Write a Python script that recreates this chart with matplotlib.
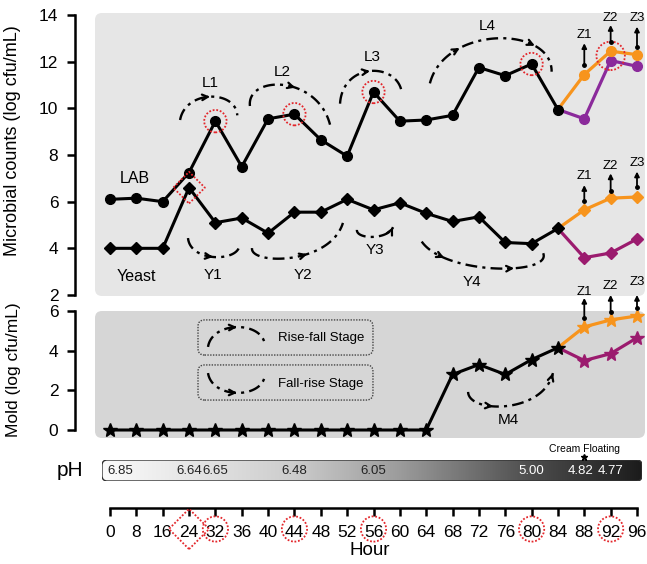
import numpy as np
import matplotlib
matplotlib.use('Agg')
import matplotlib.pyplot as plt
from matplotlib.patches import FancyBboxPatch
from matplotlib.colors import LinearSegmentedColormap
from matplotlib import transforms as mtransforms

plt.rcParams['font.family'] = ['Liberation Sans', 'DejaVu Sans']

# ---------------- data ----------------
hours = [0, 8, 16, 24, 32, 36, 40, 44, 48, 52, 56, 60, 64, 68, 72, 76, 80, 84, 88, 92, 96]
lab = [6.1, 6.15, 6.0, 7.25, 9.45, 7.5, 9.55, 9.75, 8.65, 7.95, 10.7, 9.45, 9.5, 9.7, 11.75, 11.4, 11.9, 9.95]
lab_orange = [11.45, 12.45, 12.3]
lab_purple = [9.55, 12.05, 11.8]
yeast = [4.0, 4.0, 4.0, 6.6, 5.1, 5.3, 4.65, 5.55, 5.55, 6.1, 5.65, 5.95, 5.5, 5.15, 5.35, 4.25, 4.2, 4.85]
yeast_orange = [5.65, 6.15, 6.2]
yeast_purple = [3.6, 3.8, 4.4]
mold = [0, 0, 0, 0, 0, 0, 0, 0, 0, 0, 0, 0, 0, 2.8, 3.3, 2.8, 3.55, 4.15]
mold_orange = [5.2, 5.55, 5.75]
mold_purple = [3.5, 3.85, 4.65]
ph_hours = [0, 24, 32, 44, 56, 80, 88, 92]
ph_values = ['6.85', '6.64', '6.65', '6.48', '6.05', '5.00', '4.82', '4.77']
circled_hours = [32, 44, 56, 80, 92]
diamond_hours = [24]
cream_hour = 88

# ---------------- styles ----------------
ORANGE = '#f7941d'
PURPLE_LAB = '#8b2a9b'
PURPLE_Y = '#9b1b6e'
RED = '#e3262b'
BG1 = '#e6e6e6'
BG2 = '#d6d6d6'

W, H = 647, 564
fig = plt.figure(figsize=(W / 100, H / 100), dpi=100)
fig.patch.set_facecolor('white')


def rect(x0, y0, x1, y1):
    return [x0 / W, 1 - y1 / H, (x1 - x0) / W, (y1 - y0) / H]


SP = 26.35  # px per category
XL = ((95 - 110) / SP, (645 - 110) / SP)
idx = list(range(len(hours)))
pos = {h: i for i, h in enumerate(hours)}
nb = len(lab)
xb = idx[:nb]
xc = idx[nb - 1:]


def panel(ax, color, wpx, hpx):
    ax.patch.set_visible(False)
    r = 7 / wpx
    p = FancyBboxPatch((0, 0), 1, 1, boxstyle=f'round,pad=0,rounding_size={r}',
                       mutation_aspect=wpx / hpx, transform=ax.transAxes,
                       fc=color, ec='none', zorder=0)
    ax.add_patch(p)
    for s in ['top', 'right', 'bottom']:
        ax.spines[s].set_visible(False)
    ax.spines['left'].set_position(('axes', -20 / wpx))
    ax.spines['left'].set_linewidth(1.8)
    ax.tick_params(axis='y', direction='out', length=6, width=1.8, labelsize=12.5, pad=6)
    ax.set_xticks([])
    ax.set_xlim(*XL)


def cb(P, t):
    t = np.asarray(t, float)[..., None]
    p0, p1, p2, p3 = P
    return ((1 - t) ** 3 * p0 + 3 * (1 - t) ** 2 * t * p1
            + 3 * (1 - t) * t ** 2 * p2 + t ** 3 * p3)


def arc(ax, p0, apex, p2, arrows, clip=True):
    p0 = np.array(p0, float); p2 = np.array(p2, float); apex = np.array(apex, float)
    span = p2[0] - p0[0]
    yc = (8 * apex[1] - p0[1] - p2[1]) / 6
    delta = (8 * apex[0] - 4 * p0[0] - 4 * p2[0]) / 3
    base = 0.06 * span
    c1 = np.array([p0[0] + base + delta / 2, yc])
    c2 = np.array([p2[0] - base + delta / 2, yc])
    P = (p0, c1, c2, p2)
    pts = cb(P, np.linspace(0, 1, 100))
    ax.plot(pts[:, 0], pts[:, 1], color='k', lw=1.7, dashes=(5, 2.2, 1.3, 2.2),
            zorder=4, clip_on=clip)
    for ta in arrows:
        tip = cb(P, ta)
        tail = cb(P, ta - 0.04)
        ax.annotate('', xy=tip, xytext=tail,
                    arrowprops=dict(arrowstyle='->', color='k', lw=1.6,
                                    mutation_scale=10, shrinkA=0, shrinkB=0),
                    zorder=4, annotation_clip=False)


def zarrow(ax, x, y0, y1, ytext, label):
    a = ax.annotate('', xy=(x, y1), xytext=(x, y0),
                    arrowprops=dict(arrowstyle='-|>', color='k', lw=1.3,
                                    mutation_scale=7, shrinkA=0, shrinkB=0),
                    zorder=6, annotation_clip=False)
    a.set_clip_on(False)
    ax.plot([x], [y0], 'o', color='k', ms=2.5, zorder=6, clip_on=False)
    ax.text(x, ytext, label, ha='center', va='center', fontsize=9.5, zorder=6,
            clip_on=False)


# ---------------- top panel ----------------
ax1 = fig.add_axes(rect(95, 13, 645, 296))
panel(ax1, BG1, 550, 283)
ax1.set_ylim(2 - 1 / 23.33, 14 + 2 / 23.33)
ax1.spines['left'].set_bounds(2, 14)
ax1.set_yticks([2, 4, 6, 8, 10, 12, 14])
ax1.set_ylabel('Microbial counts (log cfu/mL)', fontsize=13)
ax1.yaxis.set_label_coords(-0.135, 0.55)

ax1.plot(xc, [lab[-1]] + lab_purple, '-o', color=PURPLE_LAB, lw=2.3, ms=7,
         markevery=slice(1, None), zorder=3)
ax1.plot(xc, [lab[-1]] + lab_orange, '-o', color=ORANGE, lw=2.3, ms=7,
         markevery=slice(1, None), zorder=3)
ax1.plot(xb, lab, '-o', color='k', lw=2.2, ms=7, zorder=3.5)

ax1.plot(xc, [yeast[-1]] + yeast_purple, '-D', color=PURPLE_Y, lw=2.3, ms=6,
         markevery=slice(1, None), zorder=3)
ax1.plot(xc, [yeast[-1]] + yeast_orange, '-D', color=ORANGE, lw=2.3, ms=6,
         markevery=slice(1, None), zorder=3)
ax1.plot(xb, yeast, '-D', color='k', lw=2.2, ms=6, zorder=3.5)

# red dotted highlights
cx, cy = [], []
for h in circled_hours:
    i = pos[h]
    if i < nb:
        cx.append(i); cy.append(lab[i])
    else:
        k = i - nb
        cx.append(i); cy.append((lab_orange[k] + lab_purple[k]) / 2)
sizes = [260 if c < nb else 420 for c in cx]
ax1.scatter(cx, cy, s=sizes, facecolors='none', edgecolors=RED, linewidths=1.3,
            linestyles=(0, (1, 1)), zorder=5)
ax1.scatter([pos[h] for h in diamond_hours], [yeast[pos[h]] for h in diamond_hours],
            s=260, marker='D', facecolors='none', edgecolors=RED, linewidths=1.3,
            linestyles=(0, (1, 1)), zorder=5)

ax1.text(0.95, 7.0, 'LAB', fontsize=11.5, ha='center', va='center')
ax1.text(1.0, 2.8, 'Yeast', fontsize=11.5, ha='center', va='center')

arc(ax1, (2.66, 9.5), (3.8, 10.5), (4.83, 9.7), [0.5])
ax1.text(3.8, 11.1, 'L1', fontsize=11, ha='center', va='center')
arc(ax1, (5.31, 10.1), (6.6, 11.0), (8.35, 9.3), [0.6])
ax1.text(6.55, 11.55, 'L2', fontsize=11, ha='center', va='center')
arc(ax1, (8.73, 10.2), (9.87, 11.6), (11.07, 10.7), [0.5])
ax1.text(9.94, 12.2, 'L3', fontsize=11, ha='center', va='center')
arc(ax1, (12.14, 11.07), (14.67, 13.0), (16.76, 11.57), [0.28, 0.75])
ax1.text(14.3, 13.55, 'L4', fontsize=11, ha='center', va='center')

arc(ax1, (2.96, 4.44), (3.91, 3.63), (4.9, 4.06), [0.5])
ax1.text(3.91, 2.86, 'Y1', fontsize=11, ha='center', va='center')
arc(ax1, (5.39, 4.01), (6.9, 3.6), (8.84, 5.09), [0.62])
ax1.text(7.33, 2.86, 'Y2', fontsize=11, ha='center', va='center')
arc(ax1, (9.37, 4.79), (9.98, 4.49), (10.74, 4.91), [1.0])
ax1.text(10.06, 3.93, 'Y3', fontsize=11, ha='center', va='center')
arc(ax1, (11.83, 4.29), (14.6, 3.14), (16.44, 3.79), [0.2, 0.62])
ax1.text(13.74, 2.56, 'Y4', fontsize=11, ha='center', va='center')

for k, (b, t, tx, lb) in enumerate(zip([11.86, 12.86, 12.64], [12.79, 13.57, 13.5],
                                       [13.15, 13.88, 13.88], ['Z1', 'Z2', 'Z3'])):
    zarrow(ax1, nb + k, b, t, tx, lb)
for k, (b, t, tx, lb) in enumerate(zip([6.05, 6.45, 6.62], [6.71, 7.21, 7.29],
                                       [7.08, 7.55, 7.65], ['Z1', 'Z2', 'Z3'])):
    zarrow(ax1, nb + k, b, t, tx, lb)

# ---------------- mold panel ----------------
ax2 = fig.add_axes(rect(95, 311, 645, 438))
panel(ax2, BG2, 550, 127)
ax2.set_ylim(-8 / 19.83, 6.0)
ax2.spines['left'].set_bounds(0, 6)
ax2.set_yticks([0, 2, 4, 6])
ax2.set_ylabel('Mold (log cfu/mL)', fontsize=12.5)
ax2.yaxis.set_label_coords(-0.135, 0.54)

ax2.plot(xc, [mold[-1]] + mold_purple, '-*', color=PURPLE_Y, lw=2.3, ms=10,
         markevery=slice(1, None), zorder=3)
ax2.plot(xc, [mold[-1]] + mold_orange, '-*', color=ORANGE, lw=2.3, ms=10,
         markevery=slice(1, None), zorder=3)
ax2.plot(xb, mold, '-*', color='k', lw=2.2, ms=10, zorder=3.5, clip_on=False)

arc(ax2, (13.59, 1.92), (15.07, 1.21), (16.81, 2.87), [0.38, 1.0])
ax2.text(15.12, 0.5, 'M4', fontsize=11, ha='center', va='center')

for (y0, y1) in [(3.78, 5.55), (1.51, 3.28)]:
    bx = FancyBboxPatch((3.34, y0), 9.98 - 3.34, y1 - y0,
                        boxstyle='round,pad=0,rounding_size=0.25',
                        mutation_aspect=26.35 / 19.83, fc='none', ec='#444444',
                        lw=1.0, ls=(0, (1, 1)), zorder=2)
    ax2.add_patch(bx)
arc(ax2, (3.72, 4.19), (4.82, 5.19), (5.88, 4.29), [0.5])
ax2.text(6.38, 4.64, 'Rise-fall Stage', fontsize=9.5, ha='left', va='center')
arc(ax2, (3.72, 2.87), (4.82, 1.87), (5.88, 2.77), [0.5])
ax2.text(6.38, 2.32, 'Fall-rise Stage', fontsize=9.5, ha='left', va='center')

for k, (b, t, tx, lb) in enumerate(zip([5.65, 5.97, 6.14], [6.66, 6.81, 6.81],
                                       [6.95, 7.25, 7.48], ['Z1', 'Z2', 'Z3'])):
    zarrow(ax2, nb + k, b, t, tx, lb)

# ---------------- pH bar ----------------
ax3 = fig.add_axes(rect(102, 460, 642, 481))
ax3.set_xlim((102 - 110) / SP, (642 - 110) / SP)
ax3.set_ylim(0, 1)
ax3.axis('off')
cmap = LinearSegmentedColormap.from_list('ph', [(0, '#fbfbfb'), (0.35, '#cdcdcd'),
                                                (0.55, '#9c9c9c'), (0.8, '#4c4c4c'),
                                                (1, '#1c1c1c')])
im = ax3.imshow(np.linspace(0, 1, 256).reshape(1, -1), cmap=cmap, aspect='auto',
                extent=[(102 - 110) / SP, (642 - 110) / SP, 0, 1], zorder=1)
clip = FancyBboxPatch((0, 0), 1, 1, boxstyle='round,pad=0,rounding_size=0.01',
                      mutation_aspect=540 / 21, transform=ax3.transAxes,
                      fc='none', ec='#333333', lw=1.0, zorder=2)
ax3.add_patch(clip)
im.set_clip_path(clip)
for h, v in zip(ph_hours, ph_values):
    i = pos[h]
    col = 'white' if i >= 16 else '#222222'
    if i == 0:
        ax3.text(i - 0.1, 0.5, v, ha='left', va='center', fontsize=9.5, color=col)
    elif i == 18:
        ax3.text(i - 0.15, 0.5, v, ha='center', va='center', fontsize=9.5, color=col)
    else:
        ax3.text(i, 0.5, v, ha='center', va='center', fontsize=9.5, color=col)
ax3.text(pos[cream_hour], 1.5, 'Cream Floating', ha='center', va='center',
         fontsize=7.5, clip_on=False)
ax3.plot([pos[cream_hour]], [1.12], marker='*', color='k', ms=5, clip_on=False, zorder=5)
fig.text(70 / W, 1 - 470 / H, 'pH', fontsize=15, ha='center', va='center')

# ---------------- hour axis ----------------
ax4 = fig.add_axes(rect(95, 488, 645, 508))
ax4.set_xlim(*XL)
ax4.patch.set_visible(False)
for s in ['top', 'right', 'left']:
    ax4.spines[s].set_visible(False)
ax4.spines['bottom'].set_bounds(0, len(hours) - 1)
ax4.spines['bottom'].set_linewidth(1.8)
ax4.set_yticks([])
ax4.set_xticks(idx)
ax4.set_xticklabels([str(h) for h in hours])
ax4.tick_params(axis='x', direction='out', length=6, width=1.8, labelsize=12.5, pad=6)
ax4.set_xlabel('Hour', fontsize=13.5, labelpad=2)
tr = mtransforms.blended_transform_factory(ax4.transData, fig.transFigure)
ylab = 1 - 529 / H
ax4.scatter([pos[h] for h in circled_hours], [ylab] * len(circled_hours), s=330,
            transform=tr, facecolors='none', edgecolors=RED, linewidths=1.3,
            linestyles=(0, (1, 1)), clip_on=False, zorder=5)
ax4.scatter([pos[h] for h in diamond_hours], [ylab] * len(diamond_hours), s=420,
            marker='D', transform=tr, facecolors='none', edgecolors=RED,
            linewidths=1.3, linestyles=(0, (1, 1)), clip_on=False, zorder=5)

fig.savefig('out.png', dpi=100)
